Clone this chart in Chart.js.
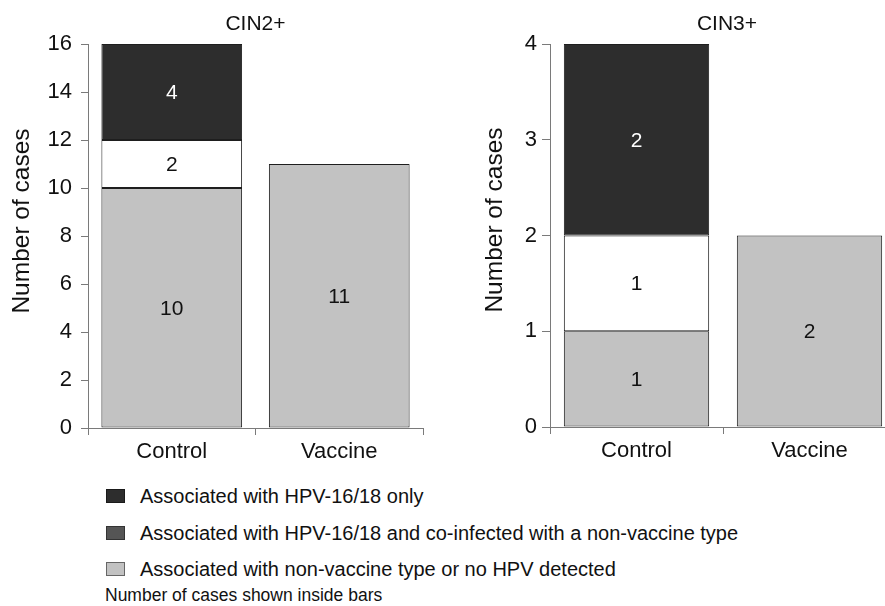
<!DOCTYPE html>
<html>
<head>
<meta charset="utf-8">
<script src="https://cdn.jsdelivr.net/npm/chart.js@4/dist/chart.umd.min.js"></script>
<style>
  html, body { margin: 0; padding: 0; background: #fff; }
  body { width: 885px; height: 606px; overflow: hidden; position: relative; font-family: "Liberation Sans", Arial, sans-serif; color: #111; }
  #c1 { position: absolute; left: 0; top: 0; }
  #c2 { position: absolute; left: 440px; top: 0; }
  .leg { position: absolute; left: 106px; height: 22px; display: flex; align-items: center; white-space: nowrap; font-size: 20px; }
  .sw { width: 19px; height: 14px; box-sizing: border-box; margin-right: 15px; }
  .note { position: absolute; left: 105px; top: 584px; font-size: 17.5px; white-space: nowrap; line-height: 22px; }
</style>
</head>
<body>
<canvas id="c1" width="440" height="470"></canvas>
<canvas id="c2" width="470" height="470"></canvas>
<div class="leg" style="top:485px"><div class="sw" style="background:#2d2d2d;border:1px solid #1a1a1a"></div><span id="l1"></span></div>
<div class="leg" style="top:522px"><div class="sw" style="background:#555555;border:1px solid #333"></div><span id="l2"></span></div>
<div class="leg" style="top:558px"><div class="sw" style="background:#c2c2c2;border:1px solid #666"></div><span id="l3"></span></div>
<div class="note" id="note"></div>
<script>
// ---- data ----
const categories = ['Control', 'Vaccine'];
const seriesLabels = [
  'Associated with HPV-16/18 only',
  'Associated with HPV-16/18 and co-infected with a non-vaccine type',
  'Associated with non-vaccine type or no HPV detected'
];
const noteText = 'Number of cases shown inside bars';
const panelTitles = ['CIN2+', 'CIN3+'];
const yAxisTitle = 'Number of cases';

const cin2HpvOnly     = [4, 0];
const cin2CoInfected  = [2, 0];
const cin2NonVaccine  = [10, 11];
const cin2YTicks = { min: 0, max: 16, step: 2 };

const cin3HpvOnly     = [2, 0];
const cin3CoInfected  = [1, 0];
const cin3NonVaccine  = [1, 2];
const cin3YTicks = { min: 0, max: 4, step: 1 };

document.getElementById('l1').textContent = seriesLabels[0];
document.getElementById('l2').textContent = seriesLabels[1];
document.getElementById('l3').textContent = seriesLabels[2];
document.getElementById('note').textContent = noteText;

const FONT = '"Liberation Sans", Arial, sans-serif';
const AXIS = '#7a7a7a';

const valueLabels = {
  id: 'valueLabels',
  afterDatasetsDraw(chart) {
    const ctx = chart.ctx;
    ctx.save();
    ctx.font = '21px ' + FONT;
    ctx.textAlign = 'center';
    ctx.textBaseline = 'middle';
    chart.data.datasets.forEach((ds, di) => {
      const meta = chart.getDatasetMeta(di);
      meta.data.forEach((el, i) => {
        const v = ds.data[i];
        if (!v) return;
        ctx.fillStyle = ds.labelColor;
        ctx.fillText(String(v), el.x, (el.y + el.base) / 2 + 1);
      });
    });
    ctx.restore();
  }
};

const panelText = {
  id: 'panelText',
  afterDraw(chart, args, opts) {
    const ctx = chart.ctx;
    const a = chart.chartArea;
    ctx.save();
    ctx.fillStyle = '#111';
    ctx.textAlign = 'center';
    ctx.textBaseline = 'middle';
    ctx.font = '21px ' + FONT;
    ctx.fillText(opts.title, (a.left + a.right) / 2 + opts.titleDx, opts.titleY);
    ctx.translate(opts.yTitleX, opts.yTitleY);
    ctx.rotate(-Math.PI / 2);
    ctx.font = '24.5px ' + FONT;
    ctx.fillText(yAxisTitle, 0, 0);
    ctx.restore();
  }
};

function makeChart(id, hpvOnly, coInf, nonVac, yt, geo) {
  const bw = c => (c.raw ? 1 : 0);
  return new Chart(document.getElementById(id), {
    type: 'bar',
    data: {
      labels: categories,
      datasets: [
        { label: seriesLabels[2], data: nonVac, backgroundColor: '#c2c2c2', borderColor: '#1e1e1e', borderWidth: bw, borderSkipped: false, labelColor: '#111' },
        { label: seriesLabels[1], data: coInf, backgroundColor: '#ffffff', borderColor: '#1e1e1e', borderWidth: bw, borderSkipped: false, labelColor: '#111' },
        { label: seriesLabels[0], data: hpvOnly, backgroundColor: '#2d2d2d', borderColor: '#1e1e1e', borderWidth: bw, borderSkipped: false, labelColor: '#ffffff' }
      ]
    },
    options: {
      responsive: false,
      animation: false,
      devicePixelRatio: 1,
      layout: { padding: { top: geo.top, right: geo.right, left: 0, bottom: 0 } },
      datasets: { bar: { categoryPercentage: 1, barPercentage: 0.84 } },
      plugins: {
        legend: { display: false },
        tooltip: { enabled: false },
        title: { display: false },
        panelText: geo.text
      },
      scales: {
        x: {
          stacked: true,
          grid: { display: true, drawOnChartArea: false, drawTicks: true, tickLength: 7, color: AXIS, offset: true },
          border: { display: true, color: AXIS, width: 1 },
          ticks: { color: '#111', font: { family: FONT, size: 22 }, padding: 4 },
          afterFit: s => { s.height = geo.xh; }
        },
        y: {
          stacked: true,
          min: yt.min, max: yt.max,
          grid: { display: true, drawOnChartArea: false, drawTicks: true, tickLength: geo.tl, color: AXIS },
          border: { display: true, color: AXIS, width: 1 },
          ticks: { stepSize: yt.step, color: '#111', font: { family: FONT, size: 22 }, padding: geo.tp },
          afterFit: s => { s.width = geo.yw; }
        }
      }
    },
    plugins: [valueLabels, panelText]
  });
}

makeChart('c1', cin2HpvOnly, cin2CoInfected, cin2NonVaccine, cin2YTicks,
  { top: 44, right: 17, xh: 42, yw: 88, tl: 7, tp: 9,
    text: { title: panelTitles[0], titleDx: 0, titleY: 24, yTitleX: 22, yTitleY: 221 } });
makeChart('c2', cin3HpvOnly, cin3CoInfected, cin3NonVaccine, cin3YTicks,
  { top: 44, right: 14, xh: 43, yw: 110, tl: 8, tp: 5,
    text: { title: panelTitles[1], titleDx: 4, titleY: 24, yTitleX: 55, yTitleY: 220 } });
</script>
</body>
</html>
